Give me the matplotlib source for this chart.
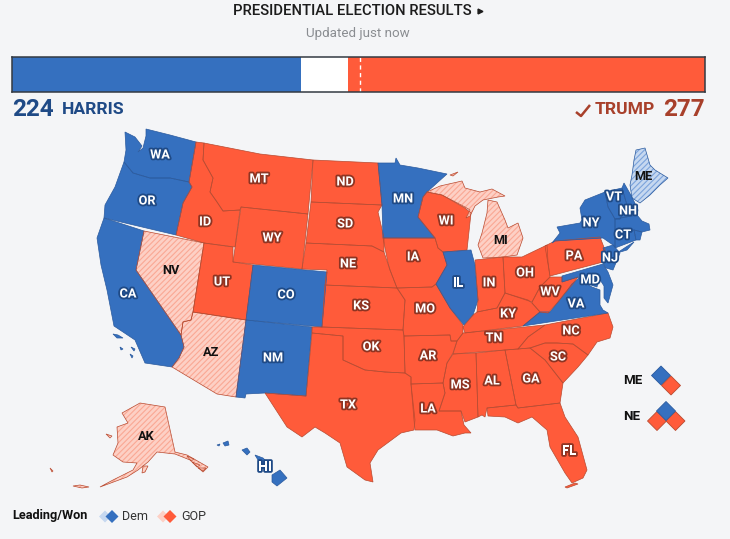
# -*- coding: utf-8 -*-
import matplotlib
matplotlib.use("Agg")
import matplotlib.pyplot as plt
import matplotlib.patheffects as pe
from matplotlib.patches import Polygon

plt.rcParams['font.family'] = ['Roboto', 'DejaVu Sans']
plt.rcParams['hatch.linewidth'] = 0.8

# electoral votes
harris_votes = 224
trump_votes = 277
total_votes = 538
votes_to_win = 270

# state status
dem_won = ["WA", "OR", "CA", "CO", "NM", "MN", "IL", "VA", "MD", "NJ", "NY", "VT", "NH",
           "MA", "CT", "RI", "HI"]
dem_leading = ["ME"]
gop_won = ["ID", "MT", "WY", "UT", "ND", "SD", "NE", "KS", "OK", "TX", "IA", "MO", "AR", "LA",
           "WI", "IN", "OH", "KY", "TN", "MS", "AL", "GA", "FL", "SC", "NC", "WV", "PA"]
gop_leading = ["NV", "AZ", "MI", "AK"]

# outlines (image pixels); first two letters of the key give the state
outlines = {
    "WA": [(146,129),(170,135),(196,142),(189,182),(170,178),(150,178),(133,173),(124,162),(126,150),(125,132),(135,137),(142,146),(138,152),(143,148),(146,136)],
    "OR": [(124,162),(133,173),(150,178),(170,178),(189,182),(192,187),(183,203),(176,235),(104,218),(105,205),(115,187)],
    "CA": [(104,218),(144,231),(136,270),(181,335),(184,347),(179,358),(172,367),(145,363),(135,340),(114,326),(107,290),(101,265),(97,238)],
    "CA_i1": [(113,334),(118,335),(123,338),(117,338)],
    "CA_i2": [(120,347),(123,349),(121,350)],
    "CA_i3": [(131,347),(135,349),(134,351)],
    "CA_i4": [(130,354),(133,356),(132,358)],
    "NV": [(144,231),(204,243),(193,312),(191,320),(183,322),(181,335),(136,270)],
    "AZ": [(193,312),(246,320),(236,397),(217,394),(172,367),(179,358),(184,347),(181,335),(183,322),(191,320)],
    "UT": [(204,243),(233,247),(233,262),(253,265),(246,320),(193,312)],
    "ID": [(196,142),(204,143),(203,160),(213,178),(210,192),(217,202),(223,211),(240,210),(235,247),(204,243),(176,235),(183,203),(192,187),(189,182)],
    "MT": [(204,143),(260,154),(313,160),(308,214),(241,207),(240,210),(223,211),(217,202),(210,192),(213,178),(203,160)],
    "WY": [(241,207),(308,214),(302,269),(233,262)],
    "CO": [(253,265),(327,272),(322,327),(246,320)],
    "NM": [(246,320),(312,327),(306,396),(265,393),(246,394),(245,398),(236,397)],
    "ND": [(313,160),(378,163),(382,205),(311,202)],
    "SD": [(311,202),(382,205),(378,212),(384,238),(384,252),(372,246),(306,243)],
    "NE": [(306,243),(372,246),(384,252),(390,270),(397,288),(325,285),(327,270),(302,269)],
    "KS": [(325,285),(397,288),(405,300),(403,330),(322,327)],
    "OK": [(312,327),(322,327),(403,330),(404,336),(405,373),(385,372),(365,370),(343,360),(343,336),(312,333)],
    "TX": [(312,333),(343,336),(343,360),(365,370),(385,372),(405,373),(411,377),(411,384),(415,420),(414,430),(401,433),(378,450),(370,463),(373,482),(365,480),(347,467),(340,443),(325,433),(315,427),(302,437),(287,427),(265,393),(306,396)],
    "MN": [(378,163),(395,163),(396,158),(400,165),(418,168),(447,174),(427,192),(423,197),(418,217),(435,238),(383,238),(382,205)],
    "IA": [(383,238),(435,238),(438,248),(443,252),(447,265),(436,284),(432,287),(397,288),(390,270),(388,263)],
    "MO": [(397,288),(432,287),(436,284),(450,308),(463,325),(463,333),(457,341),(451,341),(450,335),(404,336),(403,330),(405,300)],
    "AR": [(404,336),(450,335),(451,341),(457,341),(453,353),(447,363),(443,383),(411,384),(411,377),(405,373)],
    "LA": [(411,384),(443,383),(445,393),(439,411),(461,411),(464,425),(471,433),(465,433),(453,436),(437,430),(415,430),(414,420)],
    "WI": [(423,197),(427,192),(442,195),(465,208),(471,213),(467,250),(443,252),(438,248),(435,238),(418,217)],
    "IL": [(443,252),(471,250),(475,265),(478,300),(473,315),(464,325),(450,308),(436,284),(447,265)],
    "IN": [(475,260),(503,257),(505,293),(497,308),(477,312),(478,300)],
    "OH": [(503,257),(522,257),(547,245),(548,262),(550,277),(540,287),(532,302),(505,293)],
    "KY": [(463,327),(473,315),(477,312),(497,308),(505,293),(528,300),(532,303),(540,312),(523,326),(465,333)],
    "TN": [(463,333),(545,325),(528,337),(518,349),(453,354),(457,341)],
    "MS": [(453,354),(476,353),(478,417),(465,422),(461,411),(439,411),(445,393),(443,383),(447,363)],
    "AL": [(476,353),(505,350),(516,405),(487,408),(485,417),(482,415),(478,417)],
    "GA": [(505,350),(530,348),(545,360),(563,383),(560,403),(518,408),(516,405)],
    "FL": [(487,408),(516,405),(518,408),(560,403),(565,417),(578,437),(587,470),(583,478),(572,483),(565,473),(550,447),(547,430),(532,417),(518,423),(505,417),(488,416)],
    "FL_keys": [(565,487),(575,483),(578,484),(567,488)],
    "SC": [(530,348),(545,343),(557,343),(573,344),(588,355),(578,367),(563,383),(545,360)],
    "NC": [(608,313),(613,327),(610,338),(597,342),(588,355),(573,344),(557,343),(545,343),(530,348),(518,349),(528,337),(545,325)],
    "VA": [(523,326),(540,312),(550,312),(558,302),(566,292),(572,284),(579,278),(585,283),(592,287),(600,290),(600,305),(603,310),(608,313)],
    "WV": [(540,287),(550,277),(562,277),(562,282),(578,277),(572,285),(565,293),(558,302),(548,313),(540,312),(532,303),(532,302)],
    "MD": [(562,276),(603,264),(608,272),(613,285),(608,303),(604,298),(604,286),(599,278),(597,287),(585,283),(578,277),(562,282)],
    "PA": [(545,246),(555,241),(600,237),(605,250),(603,262),(550,276)],
    "NJ": [(603,248),(613,245),(620,253),(613,270),(606,268),(603,263),(606,256)],
    "NY": [(552,243),(560,233),(557,227),(580,223),(582,220),(580,208),(585,200),(605,192),(608,207),(615,219),(615,247),(613,245),(603,238),(555,241)],
    "NY_li": [(617,253),(626,247),(634,242),(627,250)],
    "VT": [(605,192),(622,188),(627,205),(620,219),(615,219),(608,207)],
    "NH": [(622,188),(624,183),(632,197),(638,210),(637,215),(615,219),(620,219),(627,205)],
    "MA": [(615,219),(637,215),(642,221),(649,224),(650,230),(642,232),(634,230),(615,232)],
    "CT": [(615,232),(634,230),(636,240),(615,248)],
    "RI": [(634,230),(642,232),(640,240),(636,240)],
    "ME": [(632,198),(630,185),(632,175),(634,160),(636,150),(645,148),(650,165),(655,170),(668,178),(660,185),(650,195),(640,203)],
    "MI_up": [(427,192),(440,186),(462,181),(465,188),(480,192),(492,189),(505,196),(498,197),(483,200),(475,206),(470,216),(466,218),(470,210),(465,207),(442,195)],
    "MI_lp": [(488,200),(497,202),(505,220),(508,228),(518,223),(523,238),(517,255),(503,257),(483,258),(478,245),(482,233),(487,213)],
    "MI_ir": [(450,175),(458,172),(453,176)],
    "AK": [(122,413),(140,403),(165,407),(175,452),(187,455),(208,467),(203,472),(190,460),(175,454),(157,452),(148,462),(138,470),(127,477),(100,487),(113,480),(133,470),(137,463),(123,462),(113,455),(118,443),(117,427),(128,423)],
    "AK_kod": [(143,466),(148,466),(145,472),(142,473)],
    "AK_i1": [(106,434),(112,436),(110,438)],
    "AK_i2": [(73,486),(80,485),(89,487),(82,488)],
    "AK_i3": [(50,468),(52,472),(53,471)],
    "AK_p1": [(187,456),(194,459),(191,461)],
    "AK_p2": [(192,462),(200,465),(197,467)],
    "AK_p3": [(198,468),(206,468),(203,471)],
    "HI_big": [(272,475),(280,470),(287,478),(277,486),(272,482)],
    "HI_maui": [(255,455),(263,458),(270,465),(262,468),(258,460)],
    "HI_oahu": [(242,450),(247,448),(250,452),(247,455)],
    "HI_kauai": [(223,443),(228,441),(229,445),(225,446)],
    "HI_niihau": [(217,445),(220,444),(219,446)],
}

# map labels, name -> where it sits
label_names = ["WA", "OR", "CA", "NV", "ID", "MT", "WY", "UT", "AZ", "CO", "NM", "ND", "SD", "NE", "KS",
               "OK", "TX", "MN", "IA", "MO", "AR", "LA", "WI", "IL", "IN", "OH", "KY", "TN", "MS", "AL",
               "GA", "FL", "SC", "NC", "VA", "WV", "MD", "PA", "NJ", "NY", "CT", "NH", "VT", "ME", "MI",
               "AK", "HI"]
label_x = [160, 147, 128, 171, 205, 259, 272, 222, 211, 286, 273, 345, 345, 348, 361,
           371, 348, 403, 413, 425, 428, 428, 446, 458, 489, 525, 508, 494, 460, 492,
           531, 569, 558, 571, 576, 550, 590, 574, 610, 591, 623, 628, 614, 643, 501,
           146, 265]
label_y = [155, 201, 294, 271, 222, 179, 238, 282, 352, 295, 358, 182, 224, 264, 306,
           347, 405, 199, 257, 309, 356, 409, 221, 283, 283, 273, 314, 338, 385, 381,
           379, 451, 357, 331, 304, 292, 280, 256, 258, 223, 235, 211, 197, 176, 240,
           437, 467]

BG = "#F4F5F7"
BLUE = "#3570BF"
BLUE_DK = "#1F4A86"
BLUE_LINE = "#2A5A9E"
BLUE_PALE = "#C6D8F0"
BLUE_HATCH = "#7BA3DC"
RED = "#FF5B3A"
RED_DK = "#A8402B"
RED_LINE = "#B84A30"
RED_PALE = "#FDD0C5"
RED_HATCH = "#FAA894"

fig = plt.figure(figsize=(7.30, 5.39), dpi=100, facecolor=BG)
ax = fig.add_axes([0, 0, 1, 1])
ax.set_xlim(0, 730)
ax.set_ylim(539, 0)
ax.axis('off')

# title
ax.text(352, 11, "PRESIDENTIAL ELECTION RESULTS", ha='center', va='center', fontsize=10.6,
        fontweight='medium', color="#1c1c1c")
ax.plot([480], [11], marker='>', ms=3.5, color="#1c1c1c")
ax.text(358, 34, "Updated just now", ha='center', va='center', fontsize=9.6, color="#8a8d91")

# vote bar, on its own axes scaled in electoral votes
bar = fig.add_axes([12 / 730, 1 - 92 / 539, 693 / 730, 35 / 539])
bar.set_xlim(0, total_votes)
bar.set_ylim(0, 1)
bar.barh(0.5, total_votes, height=1, color="white")
bar.barh(0.5, harris_votes, height=1, color=BLUE)
bar.barh(0.5, trump_votes, height=1, left=total_votes - trump_votes, color=RED)
bar.axvline(votes_to_win, color="white", lw=1, ls=(0, (3, 2.5)))
bar.set_xticks([])
bar.set_yticks([])
for s in bar.spines.values():
    s.set_color("#333a42")
    s.set_linewidth(1.1)

# vote totals
ax.text(12, 110, str(harris_votes), ha='left', va='center', fontsize=17.5, fontweight='bold', color=BLUE_DK)
ax.text(62, 110, "HARRIS", ha='left', va='center', fontsize=12.6, fontweight='bold', color=BLUE_DK)
ax.text(705, 110, str(trump_votes), ha='right', va='center', fontsize=17.5, fontweight='bold', color=RED_DK)
ax.text(655, 110, "TRUMP", ha='right', va='center', fontsize=12.6, fontweight='bold', color=RED_DK)
ax.plot([576, 581, 590], [112, 116, 105], color=RED_DK, lw=1.8, solid_capstyle='butt')


def style_for(state):
    if state in dem_won:
        return BLUE, None, BLUE_LINE
    if state in dem_leading:
        return BLUE_PALE, BLUE_HATCH, BLUE_LINE
    if state in gop_won:
        return RED, None, RED_LINE
    return RED_PALE, RED_HATCH, RED_LINE


# states
for key, pts in outlines.items():
    face, hatch_col, edge = style_for(key[:2])
    ax.add_patch(Polygon(pts, closed=True, facecolor=face, edgecolor='none', zorder=2))
    if hatch_col:
        ax.add_patch(Polygon(pts, closed=True, facecolor='none', edgecolor=hatch_col, hatch='//////',
                             lw=0, zorder=2.1))
    ax.add_patch(Polygon(pts, closed=True, facecolor='none', edgecolor=edge, lw=0.5, zorder=2.2))

# state labels
for name, x, y in zip(label_names, label_x, label_y):
    if name in dem_won:
        col, stroke = "white", BLUE_DK
    elif name in gop_won:
        col, stroke = "white", "#8E3422"
    else:
        col, stroke = "#111111", None
    t = ax.text(x, y, name, ha='center', va='center', fontsize=9.2, fontweight='bold', color=col, zorder=5)
    if stroke:
        t.set_path_effects([pe.withStroke(linewidth=2.6, foreground=stroke)])

# split electoral vote states
ax.text(623, 380, "ME", ha='left', va='center', fontsize=9.6, fontweight='bold', color="#111111")
ax.text(623, 416, "NE", ha='left', va='center', fontsize=9.6, fontweight='bold', color="#111111")


def diamond(cx, cy, r, face, edge, z=4):
    ax.add_patch(Polygon([(cx, cy - r), (cx + r, cy), (cx, cy + r), (cx - r, cy)], closed=True,
                         facecolor=face, edgecolor=edge, lw=0.6, zorder=z))


diamond(661, 375.5, 9.5, BLUE, BLUE_LINE)
diamond(671, 385.5, 9.5, RED, RED_LINE)
diamond(666, 411, 9.5, BLUE, BLUE_LINE, z=5)
diamond(657, 421, 9.5, RED, RED_LINE)
diamond(675.5, 421, 9.5, RED, RED_LINE)

# legend
ax.text(12, 516, "Leading/Won", ha='left', va='center', fontsize=9.2, fontweight='bold', color="#111111")
diamond(105, 516.5, 6, BLUE_PALE, 'none')
diamond(112, 516.5, 6.5, BLUE, 'none')
ax.text(122, 516, "Dem", ha='left', va='center', fontsize=9, color="#333333")
diamond(163, 516.5, 6, RED_PALE, 'none')
diamond(170, 516.5, 6.5, RED, 'none')
ax.text(181, 516, "GOP", ha='left', va='center', fontsize=9, color="#333333")

fig.savefig("out.png", dpi=100, facecolor=BG)
